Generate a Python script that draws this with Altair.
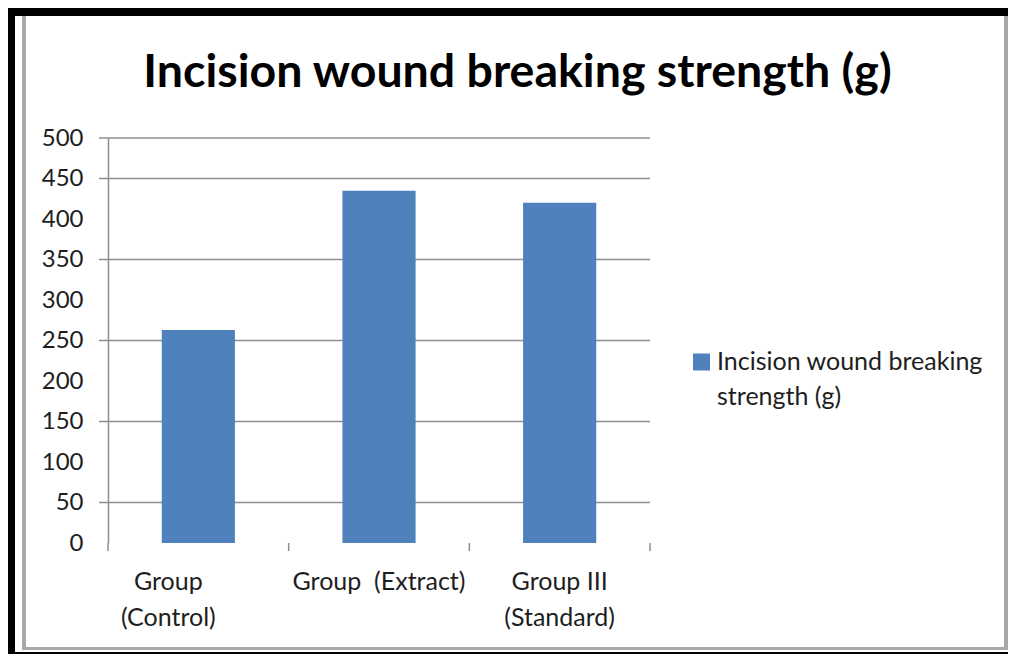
import altair as alt
import pandas as pd

# ---- data ----
categories = ["Group|(Control)", "Group\u00a0 (Extract)", "Group III|(Standard)"]
values = [263, 435, 420]
series_name = "Incision wound breaking strength (g)"
legend_label = "Incision wound breaking|strength (g)"
title_text = "Incision wound breaking strength (g)"
y_ticks = [0, 50, 100, 150, 200, 250, 300, 350, 400, 450, 500]
grid_values = [50, 150, 250, 350, 450, 500]   # gridlines visible in the reference

df = pd.DataFrame({"group": categories, "strength": values, "series": [series_name] * len(categories)})
grid_df = pd.DataFrame({"strength": grid_values})
legend_df = pd.DataFrame({"series": [series_name], "label": [legend_label]})

W, H = 542, 405
FONT = "Lato"
TXT = "#1e1e1e"
GRID = "#8e8e8e"
BAR = "#4F81BD"
FRAME_GRAY = "#a8a8a8"

x_scale = alt.Scale(domain=categories, paddingInner=0, paddingOuter=0)
y_scale = alt.Scale(domain=[0, 500], nice=False)
c_scale = alt.Scale(domain=[series_name], range=[BAR])

y_axis = alt.Axis(
    title=None, values=y_ticks, ticks=False, grid=False,
    labelFont=FONT, labelFontSize=24, labelColor=TXT, labelPadding=25,
    domain=True, domainColor=GRID, domainWidth=1.5,
)

grid = alt.Chart(grid_df).mark_rule(color=GRID, strokeWidth=1.5).encode(
    y=alt.Y("strength:Q", scale=y_scale, axis=y_axis),
    x=alt.value(-9), x2=alt.value(W),
)

bars = alt.Chart(df).mark_bar(width=alt.RelativeBandSize(0.405)).encode(
    x=alt.X(
        "group:N", sort=categories, scale=x_scale,
        axis=alt.Axis(
            title=None, labelExpr="split(datum.value, '|')", labelAngle=0,
            ticks=False, domain=False, grid=False,
            labelFont=FONT, labelFontSize=25, labelColor=TXT,
            labelPadding=26, labelLineHeight=36, labelLimit=400,
            labelOffset={"condition": {"test": "datum.value === 'Group|(Control)'", "value": -30}, "value": 0},
        ),
    ),
    y=alt.Y("strength:Q", scale=y_scale, axis=y_axis),
    color=alt.Color("series:N", scale=c_scale, legend=None),
)

xticks = alt.Chart(df).mark_rule(color=GRID, strokeWidth=1.5).encode(
    x=alt.X("group:N", sort=categories, scale=x_scale, bandPosition=0),
    y=alt.value(H), y2=alt.value(H + 8),
)
xticks_end = alt.Chart(df).transform_filter(
    alt.datum.group == categories[-1]
).mark_rule(color=GRID, strokeWidth=1.5).encode(
    x=alt.X("group:N", sort=categories, scale=x_scale, bandPosition=1),
    y=alt.value(H), y2=alt.value(H + 8),
)

# legend (symbol + wrapped label)
legend_sym = alt.Chart(legend_df).mark_square(size=289, opacity=1, strokeWidth=0).encode(
    color=alt.Color("series:N", scale=c_scale, legend=None),
    x=alt.value(593.5), y=alt.value(224),
)
legend_txt = alt.Chart(legend_df).mark_text(
    font=FONT, fontSize=25, color=TXT, align="left", baseline="alphabetic",
    lineBreak="|", lineHeight=35,
).encode(text="label:N", x=alt.value(609), y=alt.value(232))

title_df = pd.DataFrame({"t": [title_text]})
title = alt.Chart(title_df).mark_text(
    font=FONT, fontSize=46.5, fontWeight="bold", color="#000000",
    align="center", baseline="alphabetic",
).encode(text="t:N", x=alt.value(409.5), y=alt.value(-51))

one = pd.DataFrame({"k": [0]})
def frame(x1, x2, y1, y2, color):
    return alt.Chart(one).mark_rect(color=color).encode(
        x=alt.value(x1), x2=alt.value(x2), y=alt.value(y1), y2=alt.value(y2)
    )

frames = [
    frame(-100, -93, -130, 516, "#000000"),
    frame(-100, 900, -130, -122, "#000000"),
    frame(-100, 900, 514, 516, "#000000"),
    frame(-86, -82, -122, 512, FRAME_GRAY),
    frame(896, 900, -122, 512, FRAME_GRAY),
    frame(-86, 900, 509, 512, FRAME_GRAY),
]

chart = alt.layer(*frames, grid, bars, xticks, xticks_end, legend_sym, legend_txt, title).properties(
    width=W, height=H,
    autosize=alt.AutoSizeParams(type="none"),
    padding={"left": 100, "top": 130, "right": 358, "bottom": 111},
    background="white",
).configure_view(stroke=None)

chart.save("out.html", embed_options={"renderer": "svg", "actions": False})
